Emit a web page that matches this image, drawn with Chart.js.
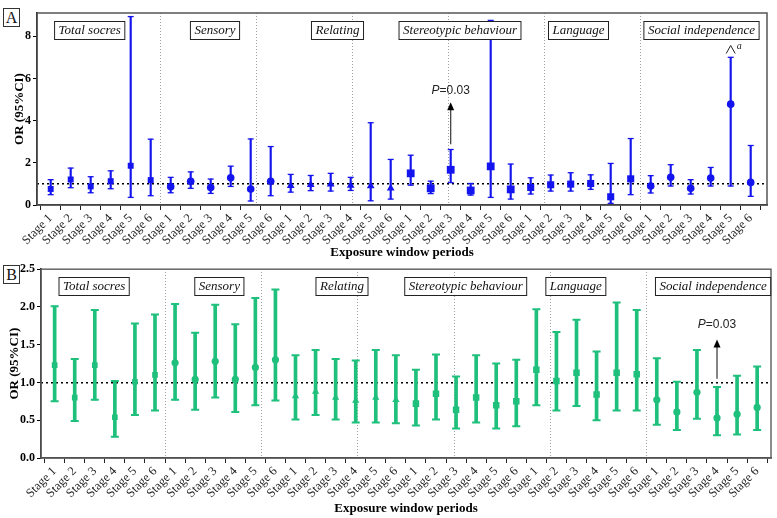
<!DOCTYPE html>
<html>
<head>
<meta charset="utf-8">
<script src="https://cdn.jsdelivr.net/npm/chart.js@4.4.0/dist/chart.umd.min.js"></script>
<style>
    html, body { margin: 0; padding: 0; background: #fff; }
    #wrap { position: relative; width: 777px; height: 518px; overflow: hidden; }
    .panel { position: absolute; left: 0; width: 777px; }
    #pA { top: 0; height: 260px; }
    #pB { top: 260px; height: 258px; }
    .tag { position: absolute; left: 3px; width: 15px; height: 17px; border: 1.5px solid #333; background: #fff;
           font: 16px "Liberation Serif", serif; text-align: center; line-height: 17px; color: #111; }
</style>
</head>
<body>
<div id="wrap">
    <div class="panel" id="pA"><canvas id="chartA" width="777" height="260"></canvas></div>
    <div class="panel" id="pB"><canvas id="chartB" width="777" height="258"></canvas></div>
    <div class="tag" style="top:8px">A</div>
    <div class="tag" style="top:265px">B</div>
</div>
<script>
// categories
const stageLabels = ['Stage 1', 'Stage 2', 'Stage 3', 'Stage 4', 'Stage 5', 'Stage 6'];
const domains = ['Total socres', 'Sensory', 'Relating', 'Stereotypic behaviour', 'Language', 'Social independence'];

// Panel A: OR and 95% CI (6 domains x 6 stages)
const orA = [0.76, 1.21, 0.88, 1.13, 1.86, 1.18,
             0.87, 1.12, 0.83, 1.29, 0.76, 1.12,
             0.91, 0.96, 0.98, 0.93, 0.90, 0.79,
             1.50, 0.79, 1.67, 0.69, 1.83, 0.74,
             0.83, 0.96, 0.99, 1.02, 0.39, 1.24,
             0.90, 1.31, 0.79, 1.28, 4.78, 1.07];
const lowA = [0.49, 0.82, 0.58, 0.77, 0.36, 0.44,
              0.58, 0.79, 0.55, 0.88, 0.19, 0.44,
              0.61, 0.68, 0.66, 0.69, 0.20, 0.28,
              0.94, 0.54, 1.06, 0.47, 0.36, 0.28,
              0.52, 0.66, 0.66, 0.74, 0.08, 0.49,
              0.57, 0.90, 0.52, 0.90, 0.90, 0.41];
const upA = [1.20, 1.75, 1.34, 1.62, 8.93, 3.12,
             1.31, 1.57, 1.23, 1.84, 3.13, 2.77,
             1.45, 1.40, 1.50, 1.31, 3.90, 2.16,
             2.36, 1.13, 2.63, 1.02, 8.75, 1.94,
             1.29, 1.42, 1.53, 1.43, 1.97, 3.15,
             1.39, 1.91, 1.20, 1.78, 7.00, 2.82];

// Panel B
const orB = [1.23, 0.80, 1.23, 0.54, 1.01, 1.10,
             1.26, 1.04, 1.28, 1.04, 1.20, 1.30,
             0.82, 0.88, 0.80, 0.76, 0.80, 0.77,
             0.72, 0.85, 0.64, 0.80, 0.70, 0.75,
             1.17, 1.02, 1.13, 0.84, 1.13, 1.11,
             0.77, 0.61, 0.87, 0.53, 0.58, 0.67];
const lowB = [0.75, 0.49, 0.77, 0.28, 0.57, 0.63,
              0.77, 0.64, 0.80, 0.61, 0.70, 0.76,
              0.51, 0.57, 0.51, 0.47, 0.47, 0.46,
              0.43, 0.51, 0.39, 0.47, 0.39, 0.42,
              0.70, 0.63, 0.69, 0.50, 0.63, 0.63,
              0.44, 0.37, 0.52, 0.30, 0.31, 0.37];
const upB = [2.01, 1.31, 1.96, 1.02, 1.78, 1.90,
             2.04, 1.66, 2.03, 1.77, 2.12, 2.23,
             1.36, 1.43, 1.31, 1.29, 1.43, 1.36,
             1.17, 1.37, 1.08, 1.36, 1.25, 1.30,
             1.97, 1.67, 1.83, 1.41, 2.06, 1.96,
             1.32, 1.01, 1.43, 0.94, 1.09, 1.21];

const xLabels = domains.flatMap(() => stageLabels);
const SERIF = '"Liberation Serif", "Times New Roman", serif';

// draws frame, domain boxes and the P arrow
const panelDecor = {
    id: 'panelDecor',
    afterDraw(chart, args, o) {
        const { ctx, chartArea: ca, scales } = chart;
        const x = scales.x, y = scales.y;
        ctx.save();
        ctx.strokeStyle = o.frameColor;
        ctx.lineWidth = 1.5;
        ctx.strokeRect(ca.left, ca.top, ca.right - ca.left, ca.bottom - ca.top);

        // domain labels
        ctx.font = 'italic 13px ' + SERIF;
        ctx.textAlign = 'center';
        ctx.textBaseline = 'middle';
        const n = stageLabels.length;
        domains.forEach((name, i) => {
            const cx = (x.getPixelForValue(i * n) + x.getPixelForValue(i * n + n - 1)) / 2 + o.labelShift[i];
            const w = ctx.measureText(name).width + 8;
            const top = ca.top + o.boxTop;
            ctx.fillStyle = '#fff';
            ctx.fillRect(cx - w / 2, top, w, 18);
            ctx.strokeStyle = '#222';
            ctx.lineWidth = 1;
            ctx.strokeRect(cx - w / 2, top, w, 18);
            ctx.fillStyle = '#111';
            ctx.fillText(name, cx, top + 9.5);
        });

        // P arrow
        const a = o.arrow;
        const ax = x.getPixelForValue(a.index);
        const y0 = y.getPixelForValue(a.from), y1 = y.getPixelForValue(a.to);
        ctx.strokeStyle = '#333';
        ctx.lineWidth = 1.2;
        ctx.beginPath(); ctx.moveTo(ax, y0); ctx.lineTo(ax, y1 + 6); ctx.stroke();
        ctx.fillStyle = '#000';
        ctx.beginPath(); ctx.moveTo(ax, y1); ctx.lineTo(ax - 3.5, y1 + 8); ctx.lineTo(ax + 3.5, y1 + 8); ctx.closePath(); ctx.fill();
        const ty = y.getPixelForValue(a.textAt);
        ctx.font = 'italic 12px "Liberation Sans", sans-serif';
        const pw = ctx.measureText('P').width;
        ctx.font = '12px "Liberation Sans", sans-serif';
        const rw = ctx.measureText('=0.03').width;
        const sx = ax - (pw + rw) / 2;
        ctx.textAlign = 'left';
        ctx.fillStyle = '#222';
        ctx.font = 'italic 12px "Liberation Sans", sans-serif';
        ctx.fillText('P', sx, ty);
        ctx.font = '12px "Liberation Sans", sans-serif';
        ctx.fillText('=0.03', sx + pw, ty);

        // caret with superscript a
        if (o.caret) {
            const c = o.caret;
            const cx = x.getPixelForValue(c.index);
            const cb = y.getPixelForValue(c.from), ct = y.getPixelForValue(c.to);
            ctx.strokeStyle = '#222';
            ctx.lineWidth = 1;
            ctx.beginPath(); ctx.moveTo(cx - 4.5, cb); ctx.lineTo(cx, ct); ctx.lineTo(cx + 4.5, cb); ctx.stroke();
            ctx.font = 'italic 10px ' + SERIF;
            ctx.fillText('a', cx + 6, ct + 1);
        }
        ctx.restore();
    }
};

function makePanel(canvasId, p) {
    const n = stageLabels.length;
    const idx = xLabels.map((l, i) => i);
    const dividers = domains.slice(1).map((d, i) => ({ value: (i + 1) * n - 0.5 }));
    const styles = idx.map(i => p.markers[Math.floor(i / n)]);
    const sizes = idx.map(i => p.sizes[Math.floor(i / n)]);
    const xMin = -0.5 - p.xPad[0], xMax = xLabels.length - 0.5 + p.xPad[1];

    return new Chart(document.getElementById(canvasId).getContext('2d'), {
        type: 'bar',
        data: {
            datasets: [
                { type: 'line', data: idx.map(i => ({ x: i, y: p.or[i] })), showLine: false, pointStyle: styles, pointRadius: sizes,
                  pointBackgroundColor: p.color, pointBorderColor: p.color, pointBorderWidth: 0, order: 0 },
                { type: 'line', data: idx.map(i => ({ x: i, y: p.up[i] })), showLine: false, pointStyle: 'line', pointRadius: p.capR,
                  pointBorderColor: p.color, pointBorderWidth: p.capW, order: 1 },
                { type: 'line', data: idx.map(i => ({ x: i, y: p.low[i] })), showLine: false, pointStyle: 'line', pointRadius: p.capR,
                  pointBorderColor: p.color, pointBorderWidth: p.capW, order: 1 },
                { type: 'bar', data: idx.map(i => ({ x: i, y: [p.low[i], p.up[i]] })), backgroundColor: p.color,
                  barThickness: p.barW, borderWidth: 0, order: 2 }
            ]
        },
        options: {
            responsive: false,
            animation: false,
            layout: { padding: p.padding },
            plugins: {
                legend: { display: false },
                tooltip: { enabled: false },
                panelDecor: p.decor
            },
            scales: {
                x: {
                    type: 'linear', min: xMin, max: xMax, offset: false,
                    afterBuildTicks: s => { s.ticks = idx.map(i => ({ value: i })); },
                    grid: { drawOnChartArea: false, drawTicks: true, tickLength: 5, color: '#222' },
                    border: { color: '#111', width: 1.5 },
                    ticks: { autoSkip: false, maxRotation: 45, minRotation: 45, padding: 1, color: '#222',
                             font: { family: SERIF, size: 12.5 }, callback: v => xLabels[v] },
                    title: { display: true, text: 'Exposure window periods', color: '#000',
                             font: { family: SERIF, size: 13, weight: 'bold' }, padding: { top: 0, bottom: p.xTitlePad } },
                    afterFit: s => { s.height = p.xHeight; }
                },
                xDiv: {
                    type: 'linear', position: 'top', min: xMin, max: xMax,
                    afterBuildTicks: s => { s.ticks = dividers.slice(); },
                    ticks: { display: false },
                    grid: { drawTicks: false, color: '#a0a0a0', lineWidth: 1 },
                    border: { display: false, dash: [1, 2] },
                    afterFit: s => { s.height = 0; }
                },
                y: {
                    min: 0, max: p.yMax,
                    ticks: { stepSize: p.yStep, includeBounds: false, padding: 2, color: '#000',
                             font: { family: SERIF, size: 12, weight: 'bold' }, callback: p.yFmt },
                    grid: { drawOnChartArea: false, drawTicks: true, tickLength: 4, color: '#000' },
                    border: { color: '#000', width: 1.5 },
                    title: { display: true, text: 'OR (95%CI)', color: '#000',
                             font: { family: SERIF, size: 13, weight: 'bold' }, padding: { top: p.yTitlePad, bottom: 0 } },
                    afterFit: s => { s.width = p.yWidth; }
                },
                yRef: {
                    type: 'linear', position: 'right', min: 0, max: p.yMax,
                    afterBuildTicks: s => { s.ticks = [{ value: 1 }]; },
                    ticks: { display: false },
                    grid: { drawTicks: false, color: '#000', lineWidth: 1.5 },
                    border: { display: false, dash: [2, 3] },
                    afterFit: s => { s.width = 0; }
                }
            }
        },
        plugins: [panelDecor]
    });
}

makePanel('chartA', {
    or: orA, low: lowA, up: upA,
    color: '#1414ee',
    markers: ['rect', 'circle', 'triangle', 'rect', 'rect', 'circle'],
    sizes: [4.2, 3.8, 4.5, 5.5, 5, 3.8],
    capR: 3, capW: 1.3, barW: 1.5,
    xPad: [0.185, 0.315],
    yMax: 9.1, yStep: 2, yFmt: v => v,
    padding: { top: 13, right: 10, bottom: 0, left: 0 },
    xHeight: 55, yWidth: 37, xTitlePad: 0, yTitlePad: 12,
    decor: {
        frameColor: '#555', boxTop: 8.5,
        labelShift: [-11, -5.7, -3.2, -0.7, -2.2, 0.8],
        arrow: { index: 20, from: 2.88, to: 4.87, textAt: 5.43 },
        caret: { index: 34, from: 7.18, to: 7.56 }
    }
});

makePanel('chartB', {
    or: orB, low: lowB, up: upB,
    color: '#1fbf7c',
    markers: ['rect', 'circle', 'triangle', 'rect', 'rect', 'circle'],
    sizes: [4, 3.6, 4.2, 4.6, 4.6, 3.6],
    capR: 4, capW: 2, barW: 3,
    xPad: [0.18, 0.19],
    yMax: 2.5, yStep: 0.5, yFmt: v => v.toFixed(1),
    padding: { top: 7, right: 4, bottom: 0, left: 0 },
    xHeight: 60, yWidth: 41, xTitlePad: 2, yTitlePad: 7,
    decor: {
        frameColor: '#666', boxTop: 8.3,
        labelShift: [-10.7, -5.9, -3.7, -0.4, -10.7, 6.1],
        arrow: { index: 33, from: 1.05, to: 1.57, textAt: 1.76 }
    }
});
</script>
</body>
</html>
